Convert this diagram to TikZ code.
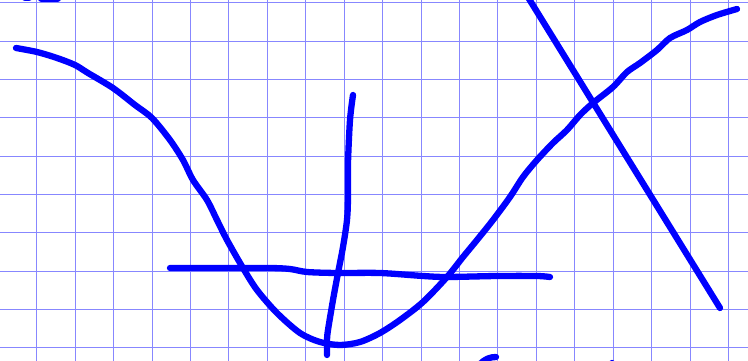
\documentclass[tikz,border=0pt]{standalone}
\definecolor{gridblue}{RGB}{135,135,255}
\definecolor{ink}{RGB}{0,0,255}
\tikzset{
  gridline/.style={draw=gridblue, line width=1pt},
  pen/.style={draw=ink, line width=6.3pt, line cap=round, line join=round},
}
\begin{document}
\begin{tikzpicture}[x=1pt,y=-1pt]
\useasboundingbox (0,0) rectangle (748,361);
\fill[white] (0,0) rectangle (748,361);
\begin{scope}
\clip (0,0) rectangle (748,361);
% grid
\foreach \k in {0,...,18} {
  \draw[gridline] ({36.7+38.44*\k},0) -- ({36.7+38.44*\k},361);
}
\foreach \k in {0,...,9} {
  \draw[gridline] (0,{2.9+38.33*\k}) -- (748,{2.9+38.33*\k});
}
% main curve
\draw[pen] plot[smooth, tension=0.5] coordinates {
  (16,48) (37,52) (57,58) (75,65) (88,73) (113,88) (135,105) (152,118)
  (170,140) (183,160) (193,180) (207,200) (217,220) (227,240) (243,268)
  (257,290) (277,313) (300,333) (320,342) (340,345) (360,342) (380,333)
  (400,320) (423,302) (447,277) (463,257) (477,240) (493,220) (510,197)
  (523,177) (537,160) (553,143) (567,130) (580,115) (593,103) (613,87)
  (627,72) (640,63) (657,50) (670,38) (687,30) (700,22) (717,15) (737,9)};
% horizontal stroke
\draw[pen] plot[smooth, tension=0.5] coordinates {
  (170,268) (220,268) (270,268) (290,269) (307,272) (337,273) (380,273)
  (423,276) (447,277) (497,276) (537,276) (550,277)};
% vertical stroke
\draw[pen] plot[smooth, tension=0.5] coordinates {
  (353,95) (350,120) (348,163) (348,197) (347,220) (343,247) (338,273)
  (333,300) (328,330) (327,340) (327,355)};
% diagonal stroke
\draw[pen] (526,-6) -- (720,308);
% partial strokes at the edges
\draw[pen] (25,-2) -- (29,-2);
\draw[pen] (41,-1.5) -- (58,-1.5);
\draw[pen] (480,364) .. controls (485,359) and (490,357) .. (496,357);
\draw[pen] (612,364) -- (612,363);
\end{scope}
\end{tikzpicture}
\end{document}
